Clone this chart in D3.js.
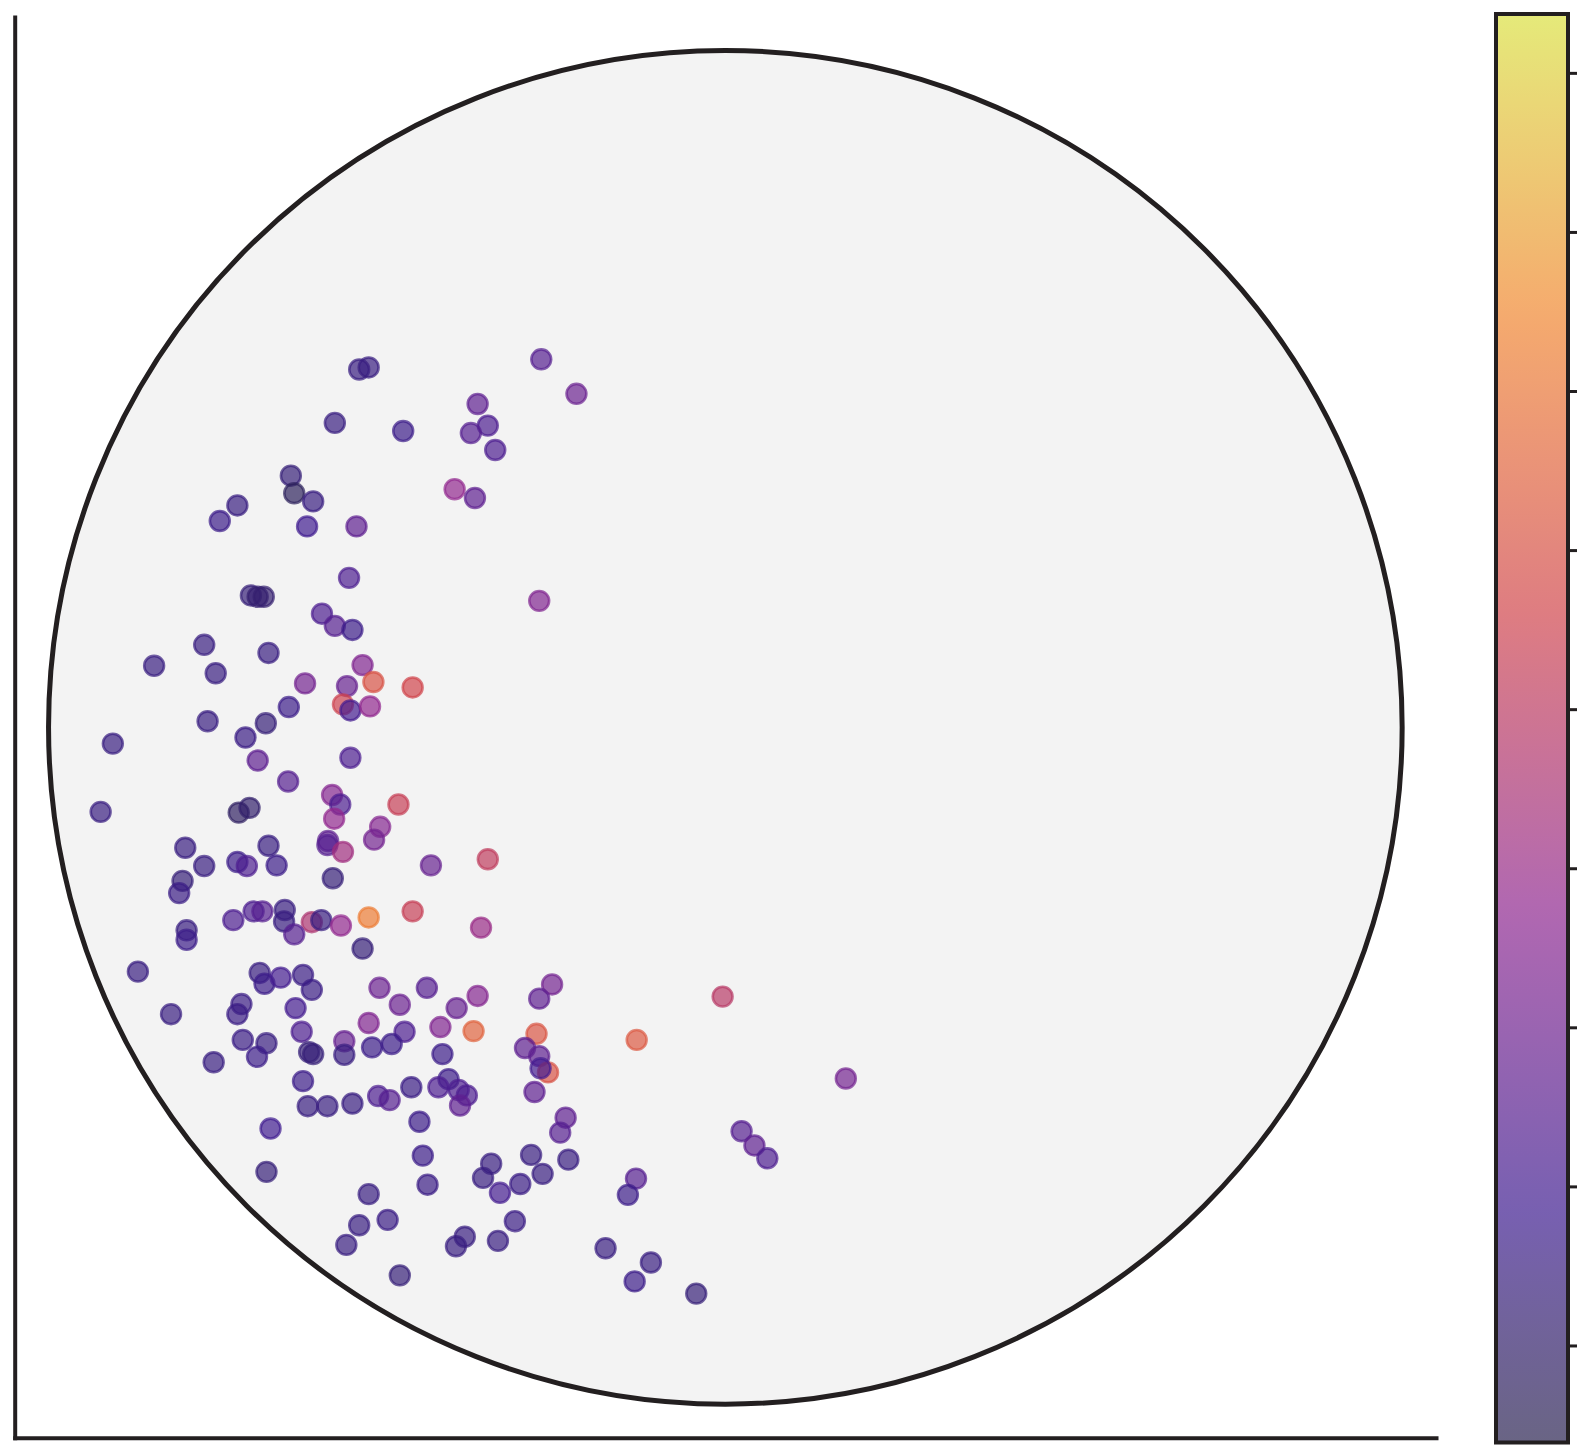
<!DOCTYPE html>
<html>
<head>
<meta charset="utf-8">
<script src="https://cdn.jsdelivr.net/npm/d3@7"></script>
<style>
  body { margin: 0; background: #fff; }
  svg { display: block; }
</style>
</head>
<body>
<div id="chart"></div>
<script>
// point positions (inside unit circle) and colour values
const xs = [
  -0.272,-0.527,-0.541,-0.220,-0.366,-0.577,-0.476,-0.351,-0.376,-0.340,
  -0.642,-0.637,-0.609,-0.400,-0.370,-0.721,-0.747,-0.618,-0.545,-0.556,
  -0.701,-0.691,-0.682,-0.275,-0.596,-0.577,-0.551,-0.770,-0.675,-0.844,
  -0.753,-0.536,-0.621,-0.559,-0.520,-0.462,-0.565,-0.554,-0.525,-0.645,
  -0.765,-0.679,-0.709,-0.905,-0.554,-0.691,-0.646,-0.581,-0.569,-0.483,
  -0.923,-0.719,-0.703,-0.578,-0.510,-0.519,-0.587,-0.588,-0.565,-0.798,
  -0.675,-0.351,-0.435,-0.770,-0.721,-0.707,-0.663,-0.580,-0.802,-0.807,
  -0.697,-0.684,-0.651,-0.727,-0.652,-0.611,-0.597,-0.637,-0.568,-0.527,
  -0.462,-0.361,-0.796,-0.796,-0.536,-0.868,-0.688,-0.681,-0.657,-0.624,
  -0.611,-0.511,-0.441,-0.256,-0.275,-0.366,-0.004,-0.715,-0.721,-0.819,
  -0.635,-0.481,-0.397,-0.527,-0.421,-0.372,-0.279,-0.131,-0.626,-0.563,
  -0.474,-0.713,-0.678,-0.522,-0.493,-0.296,-0.615,-0.609,-0.563,-0.692,
  -0.418,-0.275,-0.756,-0.262,-0.273,0.178,-0.624,-0.409,-0.424,-0.464,
  -0.394,-0.382,-0.282,-0.513,-0.496,-0.551,-0.617,-0.588,-0.392,-0.236,
  -0.452,-0.672,-0.244,0.024,0.043,0.062,-0.447,-0.287,-0.232,-0.346,
  -0.678,-0.358,-0.132,-0.270,-0.303,-0.440,-0.333,-0.144,-0.527,-0.499,
  -0.541,-0.311,-0.385,-0.398,-0.336,-0.560,-0.177,-0.110,-0.481,-0.134,
  -0.043
];

const ys = [
  0.544,0.532,0.529,0.493,0.478,0.450,0.438,0.446,0.435,0.410,
  0.372,0.346,0.334,0.352,0.339,0.328,0.305,0.297,0.297,0.221,
  0.195,0.193,0.193,0.187,0.168,0.150,0.144,0.122,0.110,0.091,
  0.080,0.092,0.065,0.061,0.067,0.059,0.034,0.025,0.031,0.030,
  0.009,0.006,-0.015,-0.024,-0.045,-0.049,-0.080,-0.100,-0.114,-0.114,
  -0.125,-0.126,-0.119,-0.135,-0.147,-0.166,-0.168,-0.174,-0.184,-0.178,
  -0.175,-0.195,-0.204,-0.205,-0.199,-0.205,-0.204,-0.223,-0.227,-0.245,
  -0.272,-0.272,-0.270,-0.285,-0.287,-0.288,-0.285,-0.306,-0.293,-0.281,
  -0.272,-0.296,-0.300,-0.314,-0.327,-0.361,-0.363,-0.379,-0.370,-0.366,
  -0.388,-0.385,-0.385,-0.380,-0.401,-0.397,-0.398,-0.409,-0.424,-0.424,
  -0.415,-0.410,-0.415,-0.437,-0.443,-0.449,-0.453,-0.462,-0.450,-0.464,
  -0.450,-0.462,-0.467,-0.473,-0.468,-0.474,-0.480,-0.483,-0.484,-0.487,
  -0.483,-0.486,-0.495,-0.510,-0.504,-0.519,-0.523,-0.520,-0.532,-0.532,
  -0.536,-0.544,-0.539,-0.545,-0.551,-0.556,-0.560,-0.560,-0.559,-0.577,
  -0.583,-0.593,-0.599,-0.597,-0.618,-0.637,-0.633,-0.632,-0.639,-0.645,
  -0.657,-0.666,-0.667,-0.660,-0.675,-0.676,-0.688,-0.691,-0.690,-0.728,
  -0.736,-0.730,-0.753,-0.767,-0.759,-0.765,-0.770,-0.791,-0.810,-0.819,
  -0.837
];

const vals = [
  2.4,1.5,1.5,2.9,2.6,1.5,1.7,2.2,2.4,2.2,
  1.3,0.7,1.5,3.8,2.6,1.5,1.7,1.9,2.6,2.2,
  1.3,1.1,1.1,3.4,2.2,2.4,1.7,1.5,1.5,1.5,
  1.5,3.4,3.1,2.8,6.0,5.6,5.5,2.0,3.8,1.7,
  1.5,1.3,1.6,1.5,2.2,2.6,2.4,3.5,2.2,5.3,
  1.5,0.8,1.0,3.8,3.5,3.1,2.6,2.4,4.2,1.5,
  1.5,5.1,2.8,1.5,1.7,2.2,1.7,1.3,1.3,1.6,
  2.2,2.4,1.5,2.2,1.5,4.6,1.5,2.4,3.8,7.2,
  5.3,4.0,1.5,1.7,1.3,1.5,1.5,1.7,2.0,1.6,
  1.6,2.9,2.4,3.1,2.6,3.5,4.9,1.6,1.6,1.5,
  2.0,2.9,2.8,3.4,3.4,6.5,6.1,6.2,2.2,2.8,
  2.2,1.6,1.5,1.7,1.7,2.6,1.3,1.3,1.5,1.7,
  1.7,2.6,1.5,6.0,2.0,3.1,1.7,1.7,2.2,1.6,
  2.2,2.2,2.6,2.2,2.4,1.5,1.5,1.5,2.6,2.6,
  1.7,1.9,2.4,2.4,2.6,2.2,1.7,1.5,1.5,1.5,
  1.3,1.5,2.4,1.5,1.6,1.6,2.0,1.7,1.5,1.6,
  1.5,1.6,1.5,1.5,1.5,1.5,1.5,1.5,1.3,1.7,
  1.3
];

// colour map (drawn with alpha on top)
const colorStopVals = [0.39, 1.86, 3.74, 5.6, 7.48, 9.37];
const colorStops = ['#2a2350', '#3e1c90', '#8f2790', '#d0454c', '#f18630', '#dae141'];
const colorDomain = [0.39, 9.37];
const cbarTicks = [1, 2, 3, 4, 5, 6, 7, 8, 9];

const width = 1577;
const height = 1456;
const ink = '#231f20';
const alpha = 0.7;

const svg = d3.select('#chart')
  .append('svg')
  .attr('width', width)
  .attr('height', height);

const x = d3.scaleLinear().domain([-1.05, 1.05]).range([14.7, 1436]);
const y = d3.scaleLinear().domain([-1.05, 1.05]).range([1437.7, 17]);

const color = d3.scaleLinear()
  .domain(colorStopVals)
  .range(colorStops)
  .interpolate(d3.interpolateRgb)
  .clamp(true);

// disc
svg.append('circle')
  .attr('cx', x(0))
  .attr('cy', y(0))
  .attr('r', x(1) - x(0))
  .style('fill', '#f3f3f3')
  .style('stroke', ink)
  .style('stroke-width', 5);

// points
const pts = xs.map((d, i) => ({ x: d, y: ys[i], v: vals[i] }));

svg.append('g')
  .selectAll('circle')
  .data(pts)
  .enter().append('circle')
  .attr('cx', d => x(d.x))
  .attr('cy', d => y(d.y))
  .attr('r', 9.9)
  .style('fill', d => color(d.v))
  .style('fill-opacity', alpha)
  .style('stroke', d => color(d.v))
  .style('stroke-opacity', alpha)
  .style('stroke-width', 2.6);

// spines (no ticks, no labels)
const leftAxis = svg.append('g')
  .attr('transform', `translate(${x.range()[0]},0)`)
  .call(d3.axisLeft(y).tickValues([]).tickSizeOuter(0));
const bottomAxis = svg.append('g')
  .attr('transform', `translate(0,${y.range()[0]})`)
  .call(d3.axisBottom(x).tickValues([]).tickSizeOuter(0));

[leftAxis, bottomAxis].forEach(a => a.select('.domain')
  .style('stroke', ink)
  .style('stroke-width', 4)
  .style('stroke-linecap', 'square'));

// colorbar
const cb = { x: 1496, w: 72 };
const cbY = d3.scaleLinear().domain(colorDomain).range([1442.5, 14]);

const grad = svg.append('defs').append('linearGradient')
  .attr('id', 'cbar-grad')
  .attr('x1', 0).attr('y1', 1).attr('x2', 0).attr('y2', 0);

grad.selectAll('stop')
  .data(d3.range(0, 1.0001, 0.02))
  .enter().append('stop')
  .attr('offset', d => d)
  .attr('stop-color', d => color(colorDomain[0] + d * (colorDomain[1] - colorDomain[0])));

svg.append('rect')
  .attr('x', cb.x)
  .attr('y', cbY(colorDomain[1]))
  .attr('width', cb.w)
  .attr('height', cbY(colorDomain[0]) - cbY(colorDomain[1]))
  .style('fill', 'url(#cbar-grad)')
  .style('fill-opacity', alpha);

const cbAxis = svg.append('g')
  .attr('transform', `translate(${cb.x + cb.w},0)`)
  .call(d3.axisRight(cbY).tickValues(cbarTicks).tickSize(11).tickFormat(''));

cbAxis.select('.domain').remove();
cbAxis.selectAll('.tick line')
  .style('stroke', ink)
  .style('stroke-width', 3);

svg.append('rect')
  .attr('x', cb.x)
  .attr('y', cbY(colorDomain[1]))
  .attr('width', cb.w)
  .attr('height', cbY(colorDomain[0]) - cbY(colorDomain[1]))
  .style('fill', 'none')
  .style('stroke', ink)
  .style('stroke-width', 4);
</script>
</body>
</html>
